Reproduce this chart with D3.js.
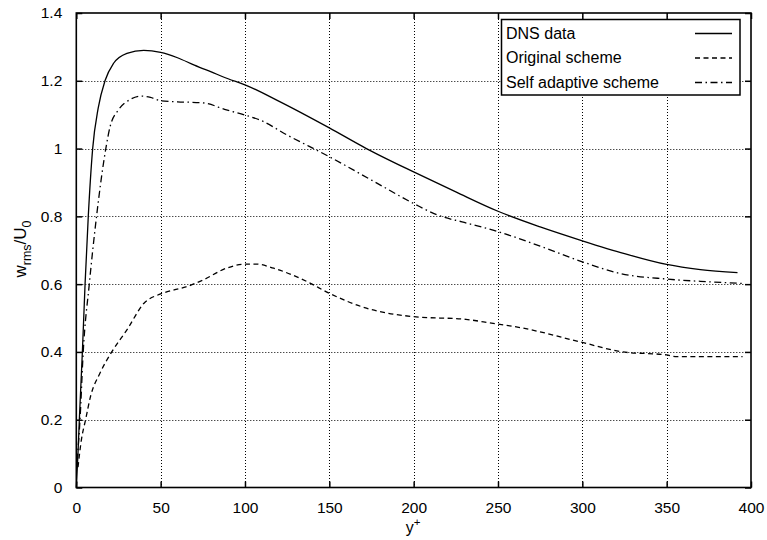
<!DOCTYPE html>
<html>
<head>
<meta charset="utf-8">
<script src="https://cdn.jsdelivr.net/npm/d3@7"></script>
<style>
  html, body { margin: 0; padding: 0; background: #fff; }
  svg { display: block; }
  text { font-family: "Liberation Sans", Arial, Helvetica, sans-serif; fill: #000; }
</style>
</head>
<body>
<svg id="chart" width="767" height="540"></svg>
<script>
// ---- data ----
const xTicks = [0, 50, 100, 150, 200, 250, 300, 350, 400];
const yTicks = [0, 0.2, 0.4, 0.6, 0.8, 1, 1.2, 1.4];
const yTickLabels = ["0", "0.2", "0.4", "0.6", "0.8", "1", "1.2", "1.4"];

const dnsX = [0, 1, 1.8, 3.6, 5.2, 7.1, 9.7, 13, 17, 22, 30, 40, 50, 60, 70, 80, 90, 100, 120, 150, 172, 200, 225, 250, 275, 300, 325, 350, 370, 392];
const dnsY = [0, 0.1, 0.2, 0.4, 0.6, 0.8, 1.0, 1.12, 1.2, 1.251, 1.281, 1.29, 1.284, 1.268, 1.246, 1.226, 1.206, 1.188, 1.14, 1.061, 1.0, 0.931, 0.872, 0.815, 0.769, 0.728, 0.69, 0.658, 0.643, 0.634];

const origX = [1, 3, 5.5, 8.5, 14, 21, 30, 40, 50, 58, 65, 75, 89, 100, 107, 117, 137, 150, 172, 200, 231, 245, 265, 300, 324, 350, 356, 395];
const origY = [0.06, 0.14, 0.2, 0.27, 0.337, 0.4, 0.465, 0.543, 0.571, 0.583, 0.592, 0.612, 0.647, 0.659, 0.659, 0.647, 0.607, 0.573, 0.529, 0.504, 0.496, 0.486, 0.47, 0.428, 0.40, 0.391, 0.386, 0.386];

const adaptX = [0.5, 2.2, 4.1, 7.7, 12, 17.5, 20, 25, 32, 38.7, 44, 50, 60, 75, 89, 100, 109, 125, 150, 175, 200, 214, 230, 250, 275, 300, 322, 350, 375, 395];
const adaptY = [0.08, 0.2, 0.4, 0.6, 0.8, 1.0, 1.064, 1.114, 1.145, 1.155, 1.151, 1.141, 1.138, 1.135, 1.114, 1.099, 1.084, 1.04, 0.976, 0.907, 0.838, 0.804, 0.782, 0.755, 0.712, 0.666, 0.632, 0.615, 0.607, 0.602];

const seriesNames = ["DNS data", "Original scheme", "Self adaptive scheme"];
const seriesDash = [null, "5,3.5", "7,3.5,1.5,3.5"];

// ---- layout ----
const svg = d3.select("#chart");
const L = 76.3, R = 751, T = 13, B = 487.5;
const x = d3.scaleLinear().domain([0, 400]).range([L, R]);
const y = d3.scaleLinear().domain([0, 1.4]).range([B, T]);

// grid
const grid = svg.append("g").attr("stroke", "#000").attr("stroke-width", 1).attr("stroke-dasharray", "1,2");
grid.selectAll("line.gx").data(xTicks.slice(1, -1)).enter().append("line")
  .attr("x1", d => Math.round(x(d)) + 0.5).attr("x2", d => Math.round(x(d)) + 0.5)
  .attr("y1", T).attr("y2", B);
grid.selectAll("line.gy").data(yTicks.slice(1, -1)).enter().append("line")
  .attr("y1", d => Math.round(y(d)) + 0.5).attr("y2", d => Math.round(y(d)) + 0.5)
  .attr("x1", L).attr("x2", R);

// axes (ticks inward, mirrored)
const fs = "15.5px";
const axB = d3.axisBottom(x).tickValues(xTicks).tickSize(-6).tickPadding(14).tickFormat(d3.format("d"));
const axT = d3.axisTop(x).tickValues(xTicks).tickSize(-6).tickFormat("");
const axL = d3.axisLeft(y).tickValues(yTicks).tickSize(-6).tickPadding(14).tickFormat((d, i) => yTickLabels[i]);
const axR = d3.axisRight(y).tickValues(yTicks).tickSize(-6).tickFormat("");

function styleAxis(g) {
  g.select(".domain").remove();
  g.selectAll(".tick line").attr("stroke", "#000").attr("stroke-width", 1.5);
  g.selectAll(".tick text").attr("font-size", fs).attr("font-family", "'Liberation Sans', Arial, sans-serif").attr("fill", "#000");
}
svg.append("g").attr("transform", `translate(0,${B})`).call(axB).call(styleAxis);
svg.append("g").attr("transform", `translate(0,${T})`).call(axT).call(styleAxis);
svg.append("g").attr("transform", `translate(${L},0)`).call(axL).call(styleAxis);
svg.append("g").attr("transform", `translate(${R},0)`).call(axR).call(styleAxis);

// lines
const line = d3.line().x(d => x(d[0])).y(d => y(d[1])).curve(d3.curveMonotoneX);
const series = [
  d3.zip(dnsX, dnsY),
  d3.zip(origX, origY),
  d3.zip(adaptX, adaptY)
];
series.forEach((s, i) => {
  svg.append("path").datum(s).attr("d", line)
    .attr("fill", "none").attr("stroke", "#000").attr("stroke-width", 1.3)
    .attr("stroke-dasharray", seriesDash[i]);
});

// frame
svg.append("rect").attr("x", L).attr("y", T).attr("width", R - L).attr("height", B - T)
  .attr("fill", "none").attr("stroke", "#000").attr("stroke-width", 1.6);

// legend
const lg = svg.append("g");
lg.append("rect").attr("x", 501.5).attr("y", 19.5).attr("width", 238.5).attr("height", 75.5)
  .attr("fill", "#fff").attr("stroke", "#000").attr("stroke-width", 1.5);
const rowBase = [38.5, 63, 87.5];
seriesNames.forEach((n, i) => {
  lg.append("text").attr("x", 506).attr("y", rowBase[i]).attr("font-size", "16px").text(n);
  lg.append("line").attr("x1", 695).attr("x2", 732)
    .attr("y1", rowBase[i] - 5).attr("y2", rowBase[i] - 5)
    .attr("stroke", "#000").attr("stroke-width", 1.3).attr("stroke-dasharray", seriesDash[i]);
});

// axis titles
const xt = svg.append("text").attr("x", 413).attr("y", 533).attr("text-anchor", "middle").attr("font-size", "16px");
xt.append("tspan").text("y");
xt.append("tspan").attr("dy", -7).attr("font-size", "11.5px").text("+");

const yt = svg.append("text").attr("transform", "translate(26,249) rotate(-90)").attr("text-anchor", "middle").attr("font-size", "17px");
yt.append("tspan").text("w");
yt.append("tspan").attr("dy", 4.5).attr("font-size", "12.5px").text("rms");
yt.append("tspan").attr("dy", -4.5).text("/U");
yt.append("tspan").attr("dy", 4.5).attr("font-size", "12.5px").text("0");
</script>
</body>
</html>
